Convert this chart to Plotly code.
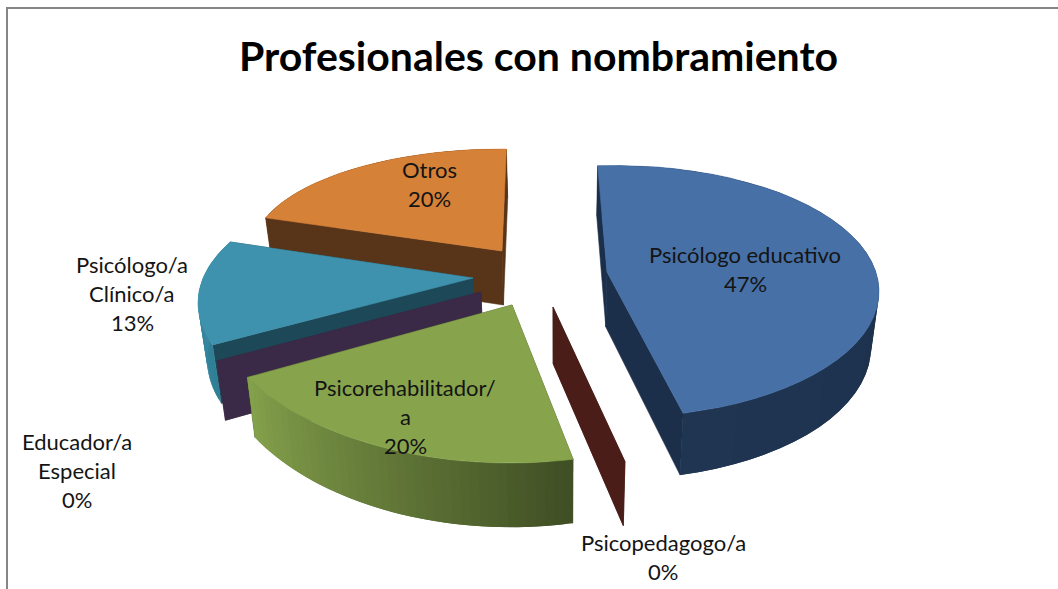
import numpy as np
import plotly.graph_objects as go

# ---- data ----
categories = ["Psicólogo educativo", "Psicopedagogo/a", "Psicorehabilitador/a",
              "Educador/a Especial", "Psicólogo/a Clínico/a", "Otros"]
values = [47, 0, 20, 0, 13, 20]
label_lines = [["Psicólogo educativo"], ["Psicopedagogo/a"], ["Psicorehabilitador/", "a"],
               ["Educador/a", "Especial"], ["Psicólogo/a", "Clínico/a"], ["Otros"]]
title_text = "Profesionales con nombramiento"

# ---- 3-D look: per slice projection (pixel space) ----
geom = [
    dict(cx=616, cy=291.5, rx=263, ry=126, rot=-4, ax=607, ay=272, top="#4670A6",
         face="#1B2E4A", s0="#1B2E48", s1="#1F3552"),
    dict(cx=553, cy=307, rx=346, ry=158, rot=-1.2, ax=553, ay=307, top="#4A1D18",
         face="#4A1D18", s0="#4A1D18", s1="#4A1D18"),
    dict(cx=510, cy=292, rx=303.5, ry=171, rot=-1.2, ax=512, ay=305, top="#87A44D",
         face="#404F24", s0="#404F24", s1="#83A04B"),
    dict(cx=481, cy=292, rx=305, ry=138, rot=-1.2, ax=481, ay=292, top="#3B2A47",
         face="#3B2A47", s0="#3B2A47", s1="#3B2A47"),
    dict(cx=473, cy=303, rx=275, ry=130, rot=10, ax=473, ay=278, top="#3F92AD",
         face="#1D4858", s0="#2F7F96", s1="#3F8FA9"),
    dict(cx=502, cy=251, rx=250, ry=102, rot=1, ax=502, ay=251, top="#D68138",
         face="#583418", s0="#583418", s1="#583418"),
]
label_xy = [(745, 254), (663, 542), (405, 387), (77, 441), (132, 264), (429, 169)]
line_h = 29


def depth(y):
    return 54 + (y - 251) * 0.048


def lower(x, y):
    return 560 + (x - 560) * 0.975, y + depth(y)


def mix(a, b, t):
    ca = [int(a[i:i + 2], 16) for i in (1, 3, 5)]
    cb = [int(b[i:i + 2], 16) for i in (1, 3, 5)]
    return "rgb(%d,%d,%d)" % tuple(round(p + (q - p) * t) for p, q in zip(ca, cb))


def poly(fig, xs, ys, color, name, lw=0.6):
    fig.add_trace(go.Scatter(x=list(xs) + [xs[0]], y=list(ys) + [ys[0]], mode="lines",
                             fill="toself", fillcolor=color,
                             line=dict(color=color, width=lw), hoverinfo="text",
                             text=name, showlegend=False))


def wedge(fig, start, end, g, name):
    th = np.radians(np.linspace(start, end, 41) + g["rot"])
    x = g["cx"] + g["rx"] * np.sin(th)
    y = g["cy"] - g["ry"] * np.cos(th)
    ax, ay = g["ax"], g["ay"]
    lax, lay = lower(ax, ay)
    # radial cut faces
    for i in (0, -1):
        lx, ly = lower(x[i], y[i])
        poly(fig, [ax, x[i], lx, lax], [ay, y[i], ly, lay], g["face"], name)
    # outer rim: each band overlaps the next one so no seam shows
    if end > start:
        lx, ly = lower(x, y)
        n = len(x)
        for i in range(n - 1):
            j = min(i + 2, n - 1)
            poly(fig, [x[i], x[i + 1], x[j], lx[j], lx[i + 1], lx[i]],
                 [y[i], y[i + 1], y[j], ly[j], ly[i + 1], ly[i]],
                 mix(g["s0"], g["s1"], i / (n - 2)), name, lw=0)
        poly(fig, [ax] + list(x), [ay] + list(y), g["top"], name)


fig = go.Figure()
edges = np.cumsum([0] + values) * 3.6
for idx in [5, 4, 3, 2, 1, 0]:
    wedge(fig, edges[idx], edges[idx + 1], geom[idx], categories[idx])

ann = [dict(x=538, y=55, text="<b>%s</b>" % title_text, showarrow=False,
            font=dict(family="Lato", size=41, color="#000000"))]
for lines, v, (lx, ly) in zip(label_lines, values, label_xy):
    for k, t in enumerate(lines + ["%d%%" % v]):
        ann.append(dict(x=lx, y=ly + k * line_h, text=t, showarrow=False,
                        font=dict(family="Lato", size=22, color="#141414")))

border = dict(type="path", path="M 7 589 L 7 8 L 1058 8", line=dict(color="#868686", width=2))
fig.update_layout(
    width=1058, height=589, margin=dict(l=0, r=0, t=0, b=0), autosize=False,
    paper_bgcolor="white", plot_bgcolor="white", showlegend=False,
    xaxis=dict(range=[0, 1058], visible=False, fixedrange=True),
    yaxis=dict(range=[589, 0], visible=False, fixedrange=True),
    annotations=ann, shapes=[border],
)
fig.write_html("out.html", config={"displayModeBar": False},
               post_script="document.body.style.margin='0';")
